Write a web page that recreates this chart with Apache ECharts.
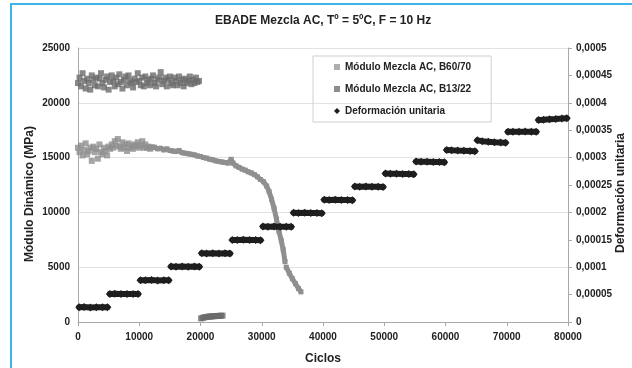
<!DOCTYPE html>
<html>
<head>
<meta charset="utf-8">
<script src="https://cdn.jsdelivr.net/npm/echarts@6/dist/echarts.min.js"></script>
<style>
html,body{margin:0;padding:0;background:#fff;}
#chart{position:absolute;left:0;top:0;width:632px;height:368px;}
#frame{position:absolute;left:10px;top:3px;width:700px;height:500px;border:2px solid #3bb5e8;pointer-events:none;}
</style>
</head>
<body>
<div id="chart"></div>
<div id="frame"></div>
<script>
// ---- Data ----
var titleText = 'EBADE Mezcla AC, Tº = 5ºC, F = 10 Hz';
var nameB6070 = 'Módulo Mezcla AC, B60/70';
var nameB1322 = 'Módulo Mezcla AC, B13/22';
var nameDef = 'Deformación unitaria';

// B60/70 scattered early part (cycles, MPa)
var b6070ScatterX = [0,250,500,750,1000,1250,1500,1750,2000,2250,2500,2750,3000,3250,3500,3750,4000,4250,4500,4750,5000,5250,5500,5750,6000,6250,6500,6750,7000,7250,7500,7750,8000,8250,8500,8750,9000,9250,9500,9750,10000,10250,10500,10750,11000,11250,11500,11750,12000];
var b6070ScatterY = [15900,15500,16100,15200,15700,16300,15300,15600,15900,14700,16000,15500,15800,14900,16200,15500,15300,15900,15600,15200,16000,15800,16200,15900,16500,16100,16700,16000,15800,16400,15900,16200,15600,16300,15900,16100,15800,16200,16000,16400,15900,16100,16500,15900,16200,15900,16000,15800,15950];

// B60/70 continuous band (cycles, MPa); null marks the small break
var b6070LineX = [12000,12500,13000,13500,14000,14500,15000,15500,16000,16500,17000,17500,18000,18500,19000,19500,20000,20500,21000,21500,22000,22500,23000,23500,24000,24500,25000,25300,25800,26300,26800,27300,27800,28300,28800,29300,29800,30300,30800,31200,31600,32000,32400,32800,33200,33500,33800,33900,34000,34500,35000,35500,36000,36400];
var b6070LineY = [15900,15950,15800,15850,15700,15800,15650,15600,15550,15650,15450,15400,15350,15300,15250,15150,15100,15000,14950,14850,14800,14700,14650,14600,14550,14500,14850,14500,14250,14100,13950,13850,13700,13600,13450,13250,13000,12800,12400,11900,11200,10400,9400,8300,7400,6600,5500,null,5000,4450,3950,3500,3050,2750];

// B13/22 (cycles, MPa)
var b1322X = [0,250,500,750,1000,1250,1500,1750,2000,2250,2500,2750,3000,3250,3500,3750,4000,4250,4500,4750,5000,5250,5500,5750,6000,6250,6500,6750,7000,7250,7500,7750,8000,8250,8500,8750,9000,9250,9500,9750,10000,10250,10500,10750,11000,11250,11500,11750,12000,12250,12500,12750,13000,13250,13500,13750,14000,14250,14500,14750,15000,15250,15500,15750,16000,16250,16500,16750,17000,17250,17500,17750,18000,18250,18500,18750,19000,19250,19500,19750,
  20100,20350,20600,20850,21100,21350,21600,21850,22100,22350,22600,22850,23100,23350,23600];
var b1322Y = [21800,22300,21500,22700,22000,21300,22200,21800,21200,22500,22100,21600,22300,21500,22200,22700,21800,21400,22100,22400,21200,21900,22500,22000,21500,22300,21700,22600,21900,21300,22100,22400,21600,22500,22000,21800,21400,22200,21900,22700,22000,21600,22300,21500,22400,21800,22100,21600,22200,22500,21800,21500,22100,22300,22800,21700,22000,22300,21500,22100,22400,21800,21600,22300,22000,21600,22400,21800,22100,21500,22200,21800,22000,22400,21700,22100,21800,22300,21900,22000,
  330,380,420,450,470,490,500,515,525,535,545,555,560,570,580];

// Deformación unitaria: 16 load steps, 6 readings each (cycles, strain)
var defX = [
  [200,1000,2000,3000,4000,4800],
  [5200,6000,7000,8000,9000,9800],
  [10200,11000,12000,13000,14000,14800],
  [15200,16000,17000,18000,19000,19800],
  [20200,21000,22000,23000,24000,24800],
  [25200,26000,27000,28000,29000,29800],
  [30200,31000,32000,33000,34000,34800],
  [35200,36000,37000,38000,39000,39800],
  [40200,41000,42000,43000,44000,44800],
  [45200,46000,47000,48000,49000,49800],
  [50200,51000,52000,53000,54000,54800],
  [55200,56000,57000,58000,59000,59800],
  [60200,61000,62000,63000,64000,64800],
  [65200,66000,67000,68000,69000,69800],
  [70200,71000,72000,73000,74000,74800],
  [75200,76000,77000,78000,79000,79800]
];
var defY = [
  [0.0000268,0.0000272,0.0000265,0.0000271,0.0000267,0.0000269],
  [0.0000512,0.0000515,0.0000509,0.0000513,0.0000510,0.0000511],
  [0.0000763,0.0000760,0.0000765,0.0000759,0.0000762,0.0000760],
  [0.0001012,0.0001010,0.0001014,0.0001008,0.0001011,0.0001009],
  [0.0001255,0.0001252,0.0001256,0.0001251,0.0001254,0.0001250],
  [0.0001498,0.0001496,0.0001499,0.0001495,0.0001497,0.0001494],
  [0.0001742,0.0001739,0.0001741,0.0001738,0.0001740,0.0001737],
  [0.0001993,0.0001990,0.0001992,0.0001988,0.0001990,0.0001986],
  [0.0002230,0.0002228,0.0002230,0.0002226,0.0002227,0.0002223],
  [0.0002473,0.0002470,0.0002472,0.0002468,0.0002469,0.0002465],
  [0.0002708,0.0002705,0.0002704,0.0002700,0.0002699,0.0002694],
  [0.0002928,0.0002925,0.0002924,0.0002920,0.0002918,0.0002913],
  [0.0003140,0.0003135,0.0003130,0.0003126,0.0003122,0.0003117],
  [0.0003315,0.0003300,0.0003290,0.0003280,0.0003275,0.0003272],
  [0.0003470,0.0003472,0.0003470,0.0003474,0.0003471,0.0003470],
  [0.0003685,0.0003690,0.0003700,0.0003705,0.0003712,0.0003718]
];

var xTicksMax = 80000, xInterval = 10000;
var yLeftMax = 25000, yLeftInterval = 5000;
var yRightMax = 0.0005, yRightInterval = 0.00005;

// ---- Build series data ----
function pairs(xs, ys){
  var out = [];
  for (var i = 0; i < xs.length; i++) out.push([xs[i], ys[i] === null ? '-' : ys[i]]);
  return out;
}
var defData = [];
for (var s = 0; s < defX.length; s++) {
  for (var j = 0; j < defX[s].length; j++) defData.push([defX[s][j], defY[s][j]]);
  if (s < defX.length - 1) defData.push([defX[s][defX[s].length-1] + 100, '-']);
}

var FONT = '"Liberation Sans", Arial, sans-serif';
var cB6070 = '#8f8f8f', cB1322 = '#6b6b6b', cDef = '#1e1e1e';

var chart = echarts.init(document.getElementById('chart'), null, {renderer:'canvas'});
chart.setOption({
  animation: false,
  backgroundColor: '#ffffff',
  title: {
    text: titleText, left: 215, top: 15, padding: 0,
    textStyle: {fontFamily: FONT, fontSize: 12, fontWeight: 'bold', color: '#222'}
  },
  legend: {
    orient: 'vertical', left: 313, top: 56,
    padding: [4, 20, 4, 21], itemGap: 8, itemWidth: 6, itemHeight: 6,
    borderColor: '#cfcfcf', borderWidth: 1,
    textStyle: {fontFamily: FONT, fontSize: 10, fontWeight: 'bold', color: '#222', lineHeight: 14},
    data: [
      {name: nameB6070, icon: 'rect', itemStyle: {color: '#9a9a9a'}},
      {name: nameB1322, icon: 'rect', itemStyle: {color: '#727272'}},
      {name: nameDef, icon: 'diamond', itemStyle: {color: cDef}}
    ]
  },
  grid: {left: 78, top: 48, width: 490, height: 274, containLabel: false, outerBoundsMode: 'none'},
  xAxis: {
    type: 'value', min: 0, max: xTicksMax, interval: xInterval,
    name: 'Ciclos', nameLocation: 'middle', nameGap: 31, nameMoveOverlap: false,
    nameTextStyle: {fontFamily: FONT, fontSize: 12, fontWeight: 'bold', color: '#222'},
    axisLine: {lineStyle: {color: '#a8a8a8'}},
    axisTick: {show: true, inside: false, length: 4, lineStyle: {color: '#a8a8a8'}},
    axisLabel: {fontFamily: FONT, fontSize: 10, fontWeight: 'bold', color: '#222', margin: 10,
      formatter: function(v){ return String(v); }},
    splitLine: {show: false}
  },
  yAxis: [
    {
      type: 'value', min: 0, max: yLeftMax, interval: yLeftInterval,
      name: 'Módulo Dinámico (MPa)', nameLocation: 'middle', nameGap: 42, nameMoveOverlap: false,
      nameTextStyle: {fontFamily: FONT, fontSize: 12, fontWeight: 'bold', color: '#222', padding: [0, 18, 0, 0]},
      axisLine: {show: true, lineStyle: {color: '#a8a8a8'}},
      axisTick: {show: false},
      axisLabel: {fontFamily: FONT, fontSize: 10, fontWeight: 'bold', color: '#222', margin: 8,
        formatter: function(v){ return String(v); }},
      splitLine: {show: true, lineStyle: {color: '#e3e3e3', width: 1}}
    },
    {
      type: 'value', min: 0, max: yRightMax, interval: yRightInterval, position: 'right',
      name: 'Deformación unitaria', nameLocation: 'middle', nameGap: 47, nameRotate: 90, nameMoveOverlap: false,
      nameTextStyle: {fontFamily: FONT, fontSize: 12, fontWeight: 'bold', color: '#222', padding: [0, 16, 0, 0]},
      axisLine: {show: true, lineStyle: {color: '#a8a8a8'}},
      axisTick: {show: true, inside: false, length: 4, lineStyle: {color: '#a8a8a8'}},
      axisLabel: {fontFamily: FONT, fontSize: 10, fontWeight: 'bold', color: '#222', margin: 8,
        formatter: function(v){ return String(Number(v.toFixed(6))).replace('.', ','); }},
      splitLine: {show: false}
    }
  ],
  series: [
    {
      name: nameB1322, type: 'scatter', symbol: 'rect', symbolSize: 6,
      itemStyle: {color: cB1322}, data: pairs(b1322X, b1322Y), z: 2
    },
    {
      name: nameB6070, type: 'scatter', symbol: 'rect', symbolSize: 6,
      itemStyle: {color: cB6070}, data: pairs(b6070ScatterX, b6070ScatterY), z: 2
    },
    {
      name: nameB6070, type: 'line', symbol: 'rect', symbolSize: 5, showSymbol: true,
      connectNulls: false,
      lineStyle: {color: cB6070, width: 5}, itemStyle: {color: cB6070},
      data: pairs(b6070LineX, b6070LineY), z: 2
    },
    {
      name: nameDef, type: 'line', yAxisIndex: 1, symbol: 'diamond', symbolSize: 8, showSymbol: true,
      connectNulls: false,
      lineStyle: {color: cDef, width: 6, cap: 'round'}, itemStyle: {color: cDef},
      data: defData, z: 3
    }
  ]
});
</script>
</body>
</html>
